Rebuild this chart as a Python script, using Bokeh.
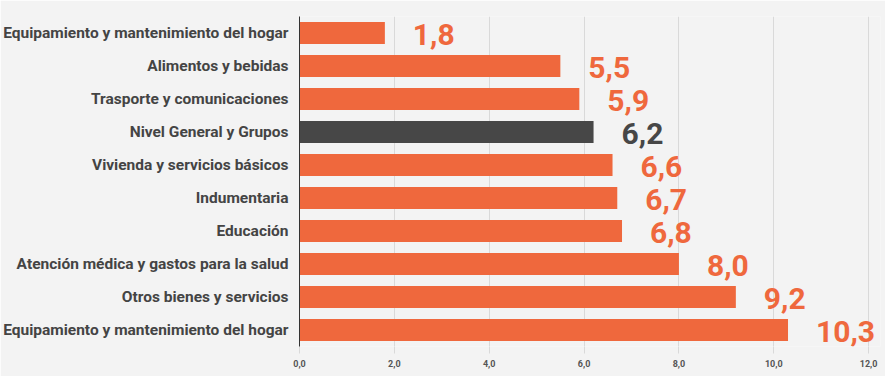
from bokeh.plotting import figure
from bokeh.models import ColumnDataSource, Range1d, FixedTicker
from bokeh.core.properties import value
from bokeh.embed import file_html
from bokeh.resources import INLINE

categories = [
    "Equipamiento y mantenimiento del hogar",
    "Alimentos y bebidas",
    "Trasporte y comunicaciones",
    "Nivel General y Grupos",
    "Vivienda y servicios básicos",
    "Indumentaria",
    "Educación",
    "Atención médica y gastos para la salud",
    "Otros bienes y servicios",
    "Equipamiento y mantenimiento del hogar",
]
values = [1.8, 5.5, 5.9, 6.2, 6.6, 6.7, 6.8, 8.0, 9.2, 10.3]
highlight = "Nivel General y Grupos"
x_ticks = [0, 2, 4, 6, 8, 10, 12]
x_tick_labels = ["0,0", "2,0", "4,0", "6,0", "8,0", "10,0", "12,0"]

ORANGE = "#EF683D"
DARK = "#474747"

ypos = list(range(len(categories)))
colors = [DARK if c == highlight else ORANGE for c in categories]
labels = [f"{v:.1f}".replace(".", ",") for v in values]

src = ColumnDataSource(dict(y=ypos, v=values, c=colors, lab=labels))

p = figure(width=885, height=376, output_backend="svg", toolbar_location=None,
           x_range=Range1d(0, 12.25), y_range=Range1d(9.5, -0.5))
p.background_fill_color = "#F3F3F3"
p.border_fill_color = "#F3F3F3"
p.outline_line_color = None
p.min_border_left = 298
p.min_border_right = 5
p.min_border_top = 16
p.min_border_bottom = 30

p.hbar(y="y", right="v", left=0, height=0.67, fill_color="c", line_color=None, source=src)
p.text(x="v", y="y", text="lab", source=src, x_offset=28, y_offset=1,
       text_color="c", text_font=value("Roboto"), text_font_style="bold",
       text_font_size="30px", text_baseline="middle", text_align="left")

p.xgrid.ticker = FixedTicker(ticks=x_ticks)
p.xgrid.grid_line_color = "#D9D9D9"
p.ygrid.grid_line_color = None

p.xaxis.ticker = FixedTicker(ticks=x_ticks)
p.xaxis.major_label_overrides = {t: l for t, l in zip(x_ticks, x_tick_labels)}
p.xaxis.axis_line_color = None
p.xaxis.major_tick_line_color = "#D9D9D9"
p.xaxis.major_tick_in = 0
p.xaxis.major_tick_out = 7
p.xaxis.minor_tick_line_color = None
p.xaxis.major_label_text_font = "Roboto"
p.xaxis.major_label_text_font_style = "bold"
p.xaxis.major_label_text_font_size = "9px"
p.xaxis.major_label_text_color = "#555555"
p.xaxis.major_label_standoff = 6

p.yaxis.ticker = FixedTicker(ticks=ypos)
p.yaxis.major_label_overrides = {i: c for i, c in zip(ypos, categories)}
p.yaxis.axis_line_color = "#333333"
p.yaxis.major_tick_line_color = None
p.yaxis.minor_tick_line_color = None
p.yaxis.major_label_text_font = "Roboto"
p.yaxis.major_label_text_font_style = "bold"
p.yaxis.major_label_text_font_size = "15.5px"
p.yaxis.major_label_text_color = "#444444"
p.yaxis.major_label_standoff = 5

open("out.html", "w").write(file_html(p, INLINE))
